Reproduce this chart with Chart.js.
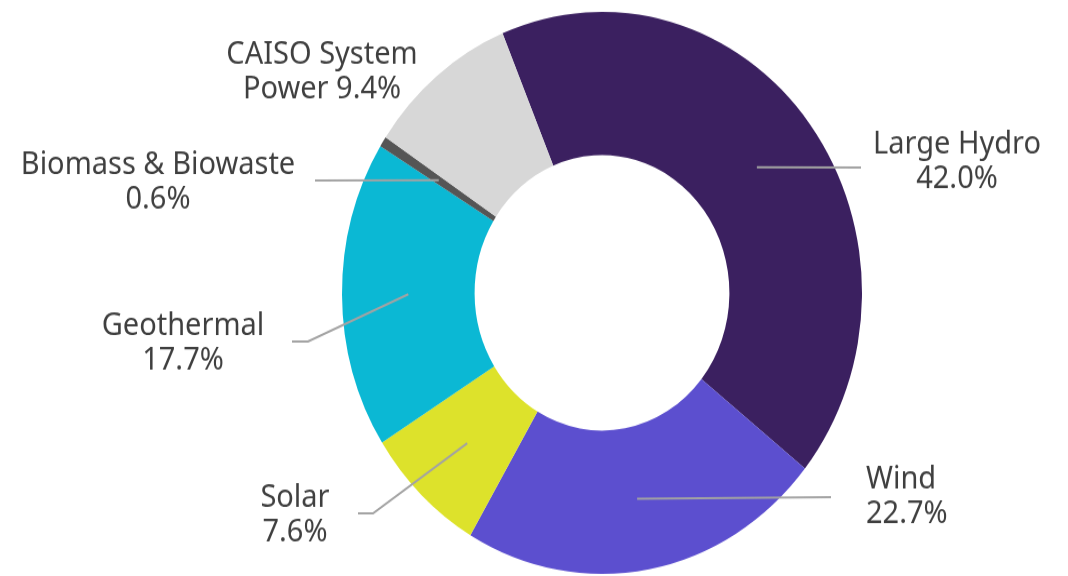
<!DOCTYPE html>
<html>
<head>
<meta charset="utf-8">
<script src="https://cdn.jsdelivr.net/npm/chart.js@4.4.0/dist/chart.umd.min.js"></script>
<style>
  html, body { margin: 0; padding: 0; background: #fff; overflow: hidden; }
  #page { width: 1068px; height: 576px; overflow: hidden; }
  #wrap {
    position: relative;
    width: 1068px;
    height: 533px;
    transform: scaleY(1.0807);
    transform-origin: 0 0;
  }
</style>
</head>
<body>
<div id="page"><div id="wrap"><canvas id="mixChart"></canvas></div></div>
<script>
const categories = ['Large Hydro', 'Wind', 'Solar', 'Geothermal', 'Biomass & Biowaste', 'CAISO System Power'];
const shares = [42.0, 22.7, 7.6, 17.7, 0.6, 9.4];
const sliceColors = ['#3b2060', '#5c4fcf', '#dde22b', '#0bb8d4', '#555555', '#d7d7d7'];

// label text lines, then where the text and the leader line end sit
const labelLines = [
    ['Large Hydro', '42.0%'],
    ['Wind', '22.7%'],
    ['Solar', '7.6%'],
    ['Geothermal', '17.7%'],
    ['Biomass & Biowaste', '0.6%'],
    ['CAISO System', 'Power 9.4%']
];
const labelLayout = [
    { tx: 957, ty: 134, align: 'center', line: [[861, 155]] },
    { tx: 866, ty: 444, align: 'left', line: [[831, 460]] },
    { tx: 295, ty: 461, align: 'center', line: [[373, 475], [358, 475]] },
    { tx: 183, ty: 302, align: 'center', line: [[308, 316], [292, 316]] },
    { tx: 158, ty: 153, align: 'center', line: [[315, 167]] },
    { tx: 322, ty: 51, align: 'center', line: null }
];

const calloutPlugin = {
    id: 'callouts',
    afterDatasetsDraw(chart) {
        const ctx = chart.ctx;
        const arcs = chart.getDatasetMeta(0).data;
        ctx.save();
        arcs.forEach((arc, i) => {
            const lay = labelLayout[i];
            if (lay.line) {
                const p = arc.getCenterPoint();
                ctx.beginPath();
                ctx.moveTo(p.x, p.y);
                lay.line.forEach(pt => ctx.lineTo(pt[0], pt[1]));
                ctx.strokeStyle = '#a3a3a3';
                ctx.lineWidth = 2;
                ctx.stroke();
            }
            ctx.fillStyle = '#3f3f3f';
            ctx.font = '29px "Noto Sans", sans-serif';
            ctx.textAlign = lay.align;
            ctx.textBaseline = 'middle';
            labelLines[i].forEach((txt, j) => {
                ctx.fillText(txt, lay.tx, lay.ty + j * 32);
            });
        });
        ctx.restore();
    }
};

new Chart(document.getElementById('mixChart'), {
    type: 'doughnut',
    data: {
        labels: categories,
        datasets: [{
            data: shares,
            backgroundColor: sliceColors,
            borderWidth: 0
        }]
    },
    options: {
        responsive: true,
        maintainAspectRatio: false,
        animation: false,
        rotation: -22.5,
        cutout: '49%',
        layout: { padding: { top: 11, bottom: 2, left: 342, right: 206 } },
        plugins: {
            legend: { display: false },
            tooltip: { enabled: false }
        }
    },
    plugins: [calloutPlugin]
});
</script>
</body>
</html>
